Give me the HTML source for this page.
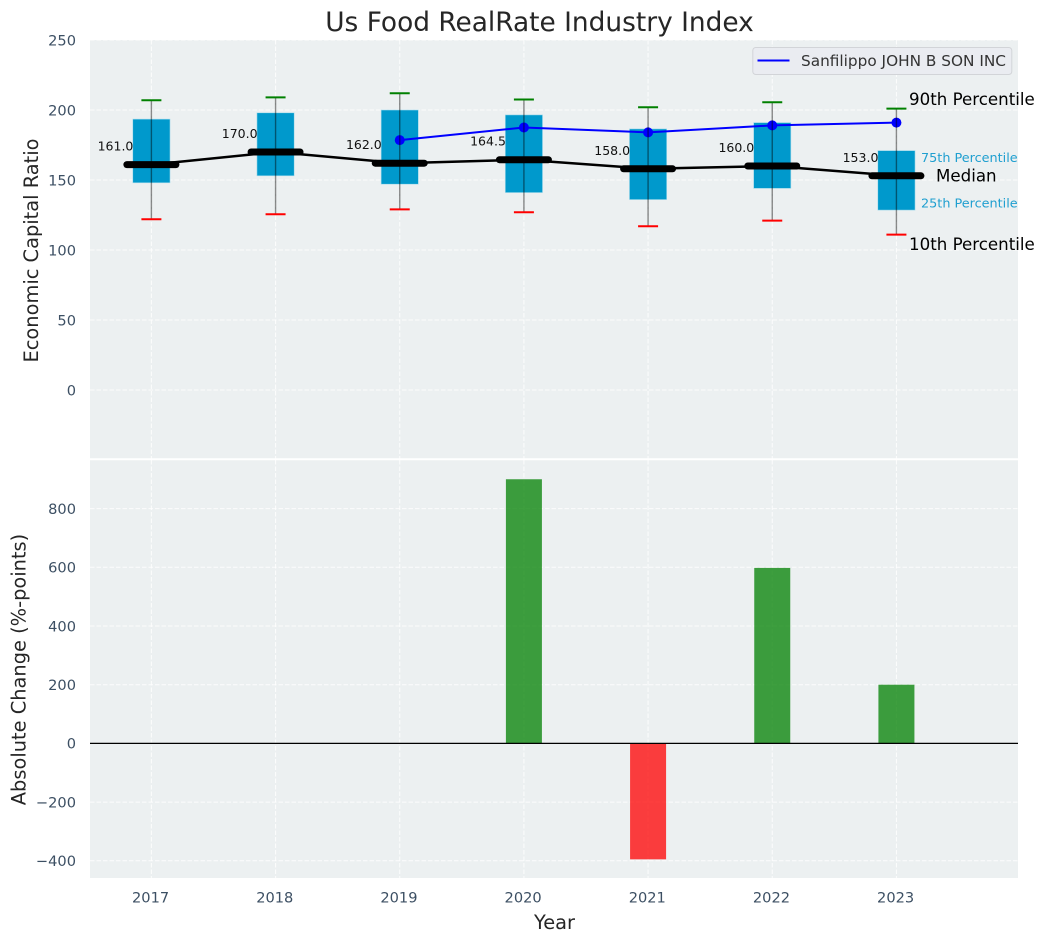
<!DOCTYPE html>
<html>
<head>
<meta charset="utf-8">
<title>Us Food RealRate Industry Index</title>
<style>
html,body{margin:0;padding:0;background:#fff;}
svg{display:block;font-family:"DejaVu Sans","Liberation Sans",sans-serif;}
</style>
</head>
<body>
<svg id="chart" width="1044" height="942" viewBox="0 0 1044 942" xmlns="http://www.w3.org/2000/svg">
  <rect x="90" y="40" width="928" height="420" fill="#ecf0f1"/>
  <rect x="90" y="460" width="928" height="418" fill="#ecf0f1"/>
  <g id="grid"></g>
  <g id="marks"></g>
  <line x1="90" x2="1018" y1="459.2" y2="459.2" stroke="#fff" stroke-width="2"/>
  <text x="539.5" y="31" text-anchor="middle" font-size="26.4" fill="#262626">Us Food RealRate Industry Index</text>
  <text transform="translate(38,250.5) rotate(-90)" text-anchor="middle" font-size="19.4" fill="#262626">Economic Capital Ratio</text>
  <text transform="translate(25.5,669.5) rotate(-90)" text-anchor="middle" font-size="19.4" fill="#262626">Absolute Change (%-points)</text>
  <text x="554.5" y="929" text-anchor="middle" font-size="19.4" fill="#262626">Year</text>
  <g>
    <rect x="752.8" y="47.5" width="259" height="27" rx="3" fill="#eaecf1" stroke="#d2d4d8"/>
    <line x1="757.5" x2="789.5" y1="60.5" y2="60.5" stroke="#0000ff" stroke-width="2"/>
    <text x="801" y="66" font-size="15.3" fill="#333">Sanfilippo JOHN B SON INC</text>
  </g>
</svg>
<script>
const years = [2017, 2018, 2019, 2020, 2021, 2022, 2023];
const p90 = [207, 209, 212, 207.5, 202, 205.5, 201];
const p75 = [193.5, 198, 200, 196.5, 186.5, 191, 171];
const medians = [161, 170, 162, 164.5, 158, 160, 153];
const p25 = [148, 153, 147, 141, 136, 144, 128.5];
const p10 = [122, 125.5, 129, 127, 117, 121, 111];
const company = [null, null, 178.5, 187.5, 184, 189, 191];
const changes = [null, null, null, 900, -395, 598, 200];
const topTicks = [0, 50, 100, 150, 200, 250];
const bottomTicks = [-400, -200, 0, 200, 400, 600, 800];

const sx = v => 151.4 + (v - 2017) * 124.17;
const yTop = v => 390 - v * 1.4;
const yBot = v => 743.4 - v * 0.2935;
const boxWidth = 0.3;
const halfBox = boxWidth / 2;

const NS = 'http://www.w3.org/2000/svg';
const gridLayer = document.getElementById('grid');
const marks = document.getElementById('marks');
function make(parent, tag, attrs, text) {
  const el = document.createElementNS(NS, tag);
  for (const k in attrs) el.setAttribute(k, attrs[k]);
  if (text !== undefined) el.textContent = text;
  parent.appendChild(el);
  return el;
}
const gridStyle = {stroke: '#ffffff', 'stroke-width': 1, 'stroke-dasharray': '4.5 2', opacity: 0.85};
const tickColor = '#3c4f63';
const tickSize = 14.6;

topTicks.forEach(t => {
  const gl = make(gridLayer, 'line', Object.assign({x1: 90, x2: 1018, y1: yTop(t), y2: yTop(t)}, gridStyle));
  
  
  const lb = make(gridLayer, 'text', {x: 76, y: yTop(t) + 5.3, 'text-anchor': 'end', 'font-size': tickSize, fill: tickColor}, String(t));
  
  
});
bottomTicks.forEach(t => {
  const gl = make(gridLayer, 'line', Object.assign({x1: 90, x2: 1018, y1: yBot(t), y2: yBot(t)}, gridStyle));
  
  
  const lb = make(gridLayer, 'text', {x: 76, y: yBot(t) + 5.3, 'text-anchor': 'end', 'font-size': tickSize, fill: tickColor}, String(t).replace('-', '\u2212'));
  
  
});
years.forEach(y => {
  const g1 = make(gridLayer, 'line', Object.assign({x1: sx(y), x2: sx(y), y1: 40, y2: 460}, gridStyle));
  
  
  const g2 = make(gridLayer, 'line', Object.assign({x1: sx(y), x2: sx(y), y1: 460, y2: 878}, gridStyle));
  
  
  const lb = make(gridLayer, 'text', {x: sx(y) - 0.8, y: 902.3, 'text-anchor': 'middle', 'font-size': tickSize, fill: tickColor}, String(y));
  
  
});

// Percentile boxes
years.forEach((y, i) => {
  const box = make(marks, 'rect', {
    x: sx(y - halfBox), y: yTop(p75[i]),
    width: sx(y + halfBox) - sx(y - halfBox), height: yTop(p25[i]) - yTop(p75[i]),
    fill: '#0099cc', stroke: '#a9dcec', 'stroke-width': 0.6
  });
  
  
});

// Median trend line
const medianPts = years.map((y, i) => sx(y) + ',' + yTop(medians[i])).join(' ');
const medianLine = make(marks, 'polyline', {points: medianPts, fill: 'none', stroke: '#000', 'stroke-width': 2.5});



// Company line and points
const companyPts = years.map((y, i) => company[i] === null ? null : sx(y) + ',' + yTop(company[i])).filter(Boolean).join(' ');
const companyLine = make(marks, 'polyline', {points: companyPts, fill: 'none', stroke: '#0000ff', 'stroke-width': 2});


years.forEach((y, i) => {
  if (company[i] === null) return;
  const pt = make(marks, 'circle', {cx: sx(y), cy: yTop(company[i]), r: 5, fill: '#0000ff'});
  
  
});

// Whiskers, caps, medians and value labels
years.forEach((y, i) => {
  const cx = sx(y);
  const w = make(marks, 'line', {x1: cx, x2: cx, y1: yTop(p10[i]), y2: yTop(p90[i]), stroke: '#000', 'stroke-opacity': 0.45, 'stroke-width': 1.4});
  
  
  const capHi = make(marks, 'line', {x1: cx - 10, x2: cx + 10, y1: yTop(p90[i]), y2: yTop(p90[i]), stroke: '#008000', 'stroke-width': 2});
  
  
  const capLo = make(marks, 'line', {x1: cx - 10, x2: cx + 10, y1: yTop(p10[i]), y2: yTop(p10[i]), stroke: '#ff0000', 'stroke-width': 2});
  
  
  const med = make(marks, 'line', {x1: cx - 24.5, x2: cx + 24.5, y1: yTop(medians[i]), y2: yTop(medians[i]), stroke: '#000', 'stroke-width': 7, 'stroke-linecap': 'round'});
  
  
  const lb = make(marks, 'text', {x: cx - 18, y: yTop(medians[i]) - 14, 'text-anchor': 'end', 'font-size': 12.5, fill: '#111'}, medians[i].toFixed(1));
  
  
});

// Percentile annotations on the final box
const last = years.length - 1;
const lastX = sx(years[last]);
const a90 = make(marks, 'text', {x: lastX + 12.6, y: yTop(p90[last]) - 3.5, 'font-size': 16.67, fill: '#000'}, '90th Percentile');


const a75 = make(marks, 'text', {x: lastX + 24.6, y: yTop(p75[last]) + 11.5, 'font-size': 12.8, fill: '#1f9fd0'}, '75th Percentile');


const aMed = make(marks, 'text', {x: lastX + 39.6, y: yTop(medians[last]) + 5.5, 'font-size': 16.67, fill: '#000'}, 'Median');


const a25 = make(marks, 'text', {x: lastX + 24.6, y: yTop(p25[last]) - 2.5, 'font-size': 12.8, fill: '#1f9fd0'}, '25th Percentile');


const a10 = make(marks, 'text', {x: lastX + 12.6, y: yTop(p10[last]) + 15.5, 'font-size': 16.67, fill: '#000'}, '10th Percentile');



// Change bars
years.forEach((y, i) => {
  if (changes[i] === null) return;
  const v = changes[i];
  const top = Math.min(yBot(v), yBot(0));
  const bar = make(marks, 'rect', {
    x: sx(y - 0.145), y: top, width: sx(y + 0.145) - sx(y - 0.145),
    height: Math.abs(yBot(v) - yBot(0)),
    fill: v >= 0 ? '#008000' : '#ff0000', 'fill-opacity': 0.75
  });
  
  
});
const zero = make(marks, 'line', {x1: 90, x2: 1018, y1: yBot(0), y2: yBot(0), stroke: '#000', 'stroke-width': 1.2});


</script>
</body>
</html>
